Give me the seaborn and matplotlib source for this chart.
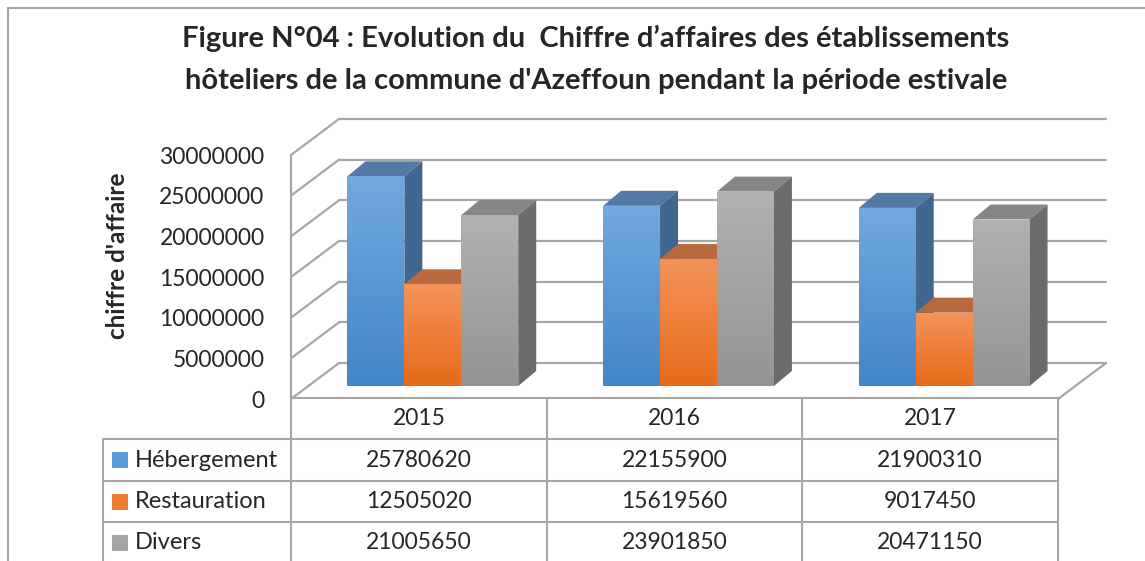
import numpy as np
import pandas as pd
import seaborn as sns
import matplotlib.pyplot as plt
import matplotlib.transforms as mtransforms
from matplotlib.colors import LinearSegmentedColormap, to_hex
from matplotlib.patches import Polygon, Rectangle
from matplotlib.lines import Line2D

years = ["2015", "2016", "2017"]
series = ["Hébergement", "Restauration", "Divers"]
hebergement = [25780620, 22155900, 21900310]
restauration = [12505020, 15619560, 9017450]
divers = [21005650, 23901850, 20471150]
yticks = [0, 5000000, 10000000, 15000000, 20000000, 25000000, 30000000]

front_cols = ["#5b9bd5", "#ed7d31", "#a5a5a5"]
light_cols = ["#71a9de", "#f4935a", "#b1b1b1"]
dark_cols = ["#4286c8", "#e56c19", "#949494"]
top_cols = ["#5479a6", "#b8693e", "#868686"]
side_cols = ["#3f6791", "#a95a22", "#6b6b6b"]
line_col = "#a6a6a6"

W, H = 1145, 561


def box(x0, y0, x1, y1):
    return [x0 / W, 1 - y1 / H, (x1 - x0) / W, (y1 - y0) / H]


def main():
    sns.set_style("white")
    plt.rcParams["font.family"] = ["Lato", "DejaVu Sans"]

    df = pd.DataFrame({
        "year": years * 3,
        "serie": [s for s in series for _ in years],
        "value": hebergement + restauration + divers,
    })

    fig = plt.figure(figsize=(W / 100, H / 100), dpi=100)
    ov = fig.add_axes([0, 0, 1, 1], zorder=0)
    ov.set_xlim(0, W)
    ov.set_ylim(H, 0)
    ov.axis("off")

    ax = fig.add_axes(box(291, 155, 1058, 399), zorder=1)
    ax.patch.set_visible(False)
    sns.barplot(data=df, x="year", y="value", hue="serie", palette=front_cols,
                width=0.668, gap=0, saturation=1, legend=False, ax=ax)
    ax.set_xlim(-0.5, 2.5)
    ax.set_ylim(0, 30000000)
    ax.set_yticks(yticks)
    ax.set_yticklabels([str(v) for v in yticks], fontsize=16.5)
    ax.tick_params(axis="y", length=0, pad=19)
    ax.set_xticks([])
    ax.set_xlabel("")
    ax.set_ylabel("chiffre d'affaire", fontsize=17.5, fontweight="bold",
                  va="center")
    ax.yaxis.set_label_coords(-0.226, 0.586)
    for s in ax.spines.values():
        s.set_visible(False)

    ident = mtransforms.IdentityTransform()
    back = 48, 36     # depth of the wall, px
    bar_off = 14, 13  # bars sit inside the depth
    bar_d = 18, 15    # depth of one bar

    def disp(x, y):
        return ax.transData.transform((x, y))

    # back wall grid lines and left wall
    for v in yticks:
        a = disp(-0.5, v) + back
        b = disp(2.5, v) + back
        fig.add_artist(Line2D([a[0], b[0]], [a[1], b[1]], transform=ident,
                              color=line_col, lw=1.6, zorder=0.5))
        f = disp(-0.5, v)
        fig.add_artist(Line2D([f[0], a[0]], [f[1], a[1]], transform=ident,
                              color=line_col, lw=1.6, zorder=0.5))
    p0, p1 = disp(-0.5, 0), disp(-0.5, 30000000)
    fig.add_artist(Line2D([p0[0], p1[0]], [p0[1], p1[1]], transform=ident,
                          color=line_col, lw=1.6, zorder=0.5))
    r0 = disp(2.5, 0)
    fig.add_artist(Line2D([r0[0], r0[0] + back[0]], [r0[1], r0[1] + back[1]],
                          transform=ident, color=line_col, lw=1.6, zorder=0.5))

    # pseudo 3D bars
    off = mtransforms.ScaledTranslation(bar_off[0] / 100, bar_off[1] / 100,
                                        fig.dpi_scale_trans)
    grad = np.linspace(0, 1, 64).reshape(-1, 1)
    bars = sorted(ax.patches, key=lambda p: p.get_x())
    for i, p in enumerate(bars):
        k = front_cols.index(to_hex(p.get_facecolor()))
        p.set_transform(ax.transData + off)
        p.set_edgecolor("none")
        z = 2 + i
        p.set_zorder(z + 0.5)
        x0, x1, h = p.get_x(), p.get_x() + p.get_width(), p.get_height()
        cmap = LinearSegmentedColormap.from_list("g", [light_cols[k], dark_cols[k]])
        im = ax.imshow(grad, cmap=cmap, extent=(x0, x1, 0, h), aspect="auto",
                       origin="upper", interpolation="bilinear", zorder=z + 0.6)
        im.set_transform(ax.transData + off)
        im.set_clip_path(p)
        br = disp(x1, 0) + bar_off
        tl = disp(x0, h) + bar_off
        tr = disp(x1, h) + bar_off
        d = np.array(bar_d)
        ax.add_patch(Polygon([tl, tr, tr + d, tl + d], closed=True, transform=ident,
                             facecolor=top_cols[k], edgecolor="none", zorder=z))
        ax.add_patch(Polygon([br, tr, tr + d, br + d], closed=True, transform=ident,
                             facecolor=side_cols[k], edgecolor="none", zorder=z))
    ax.set_xlim(-0.5, 2.5)
    ax.set_ylim(0, 30000000)

    # data table
    cols = [disp(x, 0)[0] for x in (-0.5, 0.5, 1.5, 2.5)]
    rows = [398, 439, 481, 522, 563]
    left = 103
    kw = dict(color=line_col, lw=1.5)
    ov.plot([cols[0], cols[-1]], [rows[0], rows[0]], **kw)
    for y in rows[1:4]:
        ov.plot([left, cols[-1]], [y, y], **kw)
    for x in cols:
        ov.plot([x, x], [rows[0], H], **kw)
    ov.plot([left, left], [rows[1], H], **kw)

    values = [hebergement, restauration, divers]
    for j, yr in enumerate(years):
        cx = (cols[j] + cols[j + 1]) / 2
        ov.text(cx, (rows[0] + rows[1]) / 2, yr, ha="center", va="center", fontsize=16.5)
        for r in range(3):
            ov.text(cx, (rows[r + 1] + rows[r + 2]) / 2, str(values[r][j]),
                    ha="center", va="center", fontsize=16.5)
    for r, name in enumerate(series):
        cy = (rows[r + 1] + rows[r + 2]) / 2
        ov.add_patch(Rectangle((112, cy - 8), 16, 16, facecolor=front_cols[r], edgecolor="none"))
        ov.text(135, cy, name, ha="left", va="center", fontsize=17)

    # chart frame
    ov.plot([8, W], [8, 8], color=line_col, lw=1.5)
    ov.plot([8, 8], [8, H], color=line_col, lw=1.5)

    ov.text(596, 38, "Figure N°04 : Evolution du  Chiffre d’affaires des établissements",
            ha="center", va="center", fontsize=21, fontweight="bold")
    ov.text(596, 81, "hôteliers de la commune d'Azeffoun pendant la période estivale",
            ha="center", va="center", fontsize=21, fontweight="bold")

    fig.savefig("out.png", dpi=100)


if __name__ == "__main__":
    main()
